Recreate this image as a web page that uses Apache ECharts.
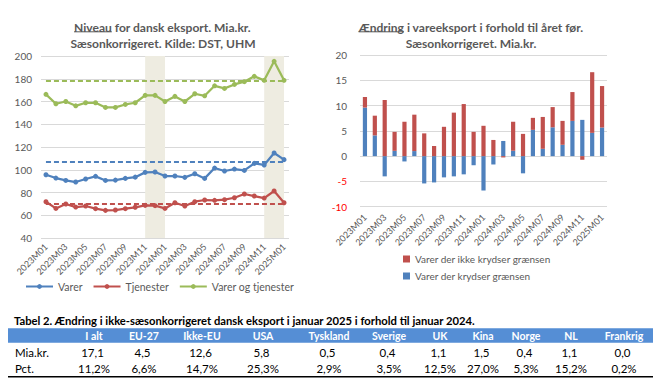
<!DOCTYPE html>
<html><head><meta charset="utf-8">
<script src="https://cdn.jsdelivr.net/npm/echarts@6/dist/echarts.min.js"></script>
<style>html,body{margin:0;padding:0;background:#fff}#c{width:663px;height:380px}</style>
</head><body><div id="c"></div>
<script>
// ---------- DATA ----------
const categories = ['2023M01','2023M02','2023M03','2023M04','2023M05','2023M06','2023M07','2023M08','2023M09','2023M10','2023M11','2023M12',
  '2024M01','2024M02','2024M03','2024M04','2024M05','2024M06','2024M07','2024M08','2024M09','2024M10','2024M11','2024M12','2025M01'];
const varer            = [95.6,92.7,90.6,89.2,91.9,94.2,90.6,90.9,92.4,93.5,97.7,98.0,94.5,94.5,93.3,96.5,92.4,101.5,98.9,100.6,99.4,105.6,104.2,114.7,108.9];
const tjenester        = [71.9,66.0,69.9,67.2,68.1,65.8,64.3,64.6,65.8,67.0,68.7,68.4,66.0,71.0,68.1,71.9,73.4,73.1,73.7,75.4,78.7,76.9,75.1,81.3,71.0];
const varerOgTjenester = [166.3,158.0,160.0,156.2,158.9,158.9,154.8,154.8,157.4,158.9,165.4,165.4,160.0,164.5,160.0,166.8,165.0,173.8,171.5,175.0,177.4,182.1,178.6,195.3,178.6];
const refVarer = 107.1;
const refTjenester = 70.4;
const refVarerOgTjenester = 178.0;
const bands = [['2023M11','2024M01'],['2024M11','2025M01']];

const krydser     = [9.6,4.1,-4.0,1.05,-1.05,1.0,-5.4,-5.2,-4.2,-4.0,-3.6,-1.8,-6.8,-1.65,3.0,1.05,-3.4,5.2,1.45,5.7,2.24,6.97,7.17,4.6,5.66];
const ikkeKrydser = [2.1,3.9,11.1,3.75,6.8,7.2,4.5,2.0,5.8,8.6,10.3,4.8,6.0,3.2,-0.26,5.75,4.4,2.37,6.3,4.0,4.73,5.7,-0.72,12.0,8.2];

const tableTitle = 'Tabel 2. Ændring i ikke-sæsonkorrigeret dansk eksport i januar 2025 i forhold til januar 2024.';
const tableCols  = ['I alt','EU-27','Ikke-EU','USA','Tyskland','Sverige','UK','Kina','Norge','NL','Frankrig'];
const tableRows  = ['Mia.kr.','Pct.'];
const tableMia   = ['17,1','4,5','12,6','5,8','0,5','0,4','1,1','1,5','0,4','1,1','0,0'];
const tablePct   = ['11,2%','6,6%','14,7%','25,3%','2,9%','3,5%','12,5%','27,0%','5,3%','15,2%','0,2%'];

// ---------- STYLE / LAYOUT ----------
const FONT = 'Lato, "Open Sans", sans-serif';
const GREY = '#595959';
const C_BLUE = '#4F81BD', C_RED = '#C0504D', C_GREEN = '#9BBB59';
const colX = [94,144,202,263,329,389,440,483,526,571,624];

const mctx = document.createElement('canvas').getContext('2d');
function tw(str, size, weight){ mctx.font = weight + ' ' + size + 'px Lato'; return mctx.measureText(str).width; }
function fitSize(str, weight, target){ return +(12 * target / tw(str, 12, weight)).toFixed(2); }
function txt(str, x, y, size, weight, fill, align){
  return {type:'text', x:x, y:y, silent:true, z:10,
    style:{text:str, fill:fill, fontFamily:FONT, fontSize:size, fontWeight:weight,
      align:align, textAlign:align, verticalAlign:'middle', textVerticalAlign:'middle'}};
}
function hline(x1, x2, y, color, w){
  return {type:'line', silent:true, z:10, shape:{x1:x1,y1:y,x2:x2,y2:y}, style:{stroke:color, lineWidth:w}};
}

const graphics = [];
// left title
const lt1 = 'Niveau for dansk eksport. Mia.kr.', lt2 = 'Sæsonkorrigeret. Kilde: DST, UHM';
const ls = fitSize(lt1, 'bold', 177);
const lw1 = tw(lt1, ls, 'bold'), lx0 = 162.5 - lw1 / 2;
graphics.push(txt(lt1, lx0, 27, ls, 'bold', GREY, 'left'));
graphics.push(hline(lx0, lx0 + tw('Niveau', ls, 'bold'), 31.8, GREY, 1));
graphics.push(txt(lt2, 163, 43, ls, 'bold', GREY, 'center'));
// right title
const rt1 = 'Ændring i vareeksport i forhold til året før.', rt2 = 'Sæsonkorrigeret. Mia.kr.';
const rs = fitSize(rt1, 'bold', 225);
const rw1 = tw(rt1, rs, 'bold'), rx0 = 471 - rw1 / 2;
graphics.push(txt(rt1, rx0, 27, rs, 'bold', GREY, 'left'));
graphics.push(hline(rx0, rx0 + tw('Ændring', rs, 'bold'), 31.8, GREY, 1));
graphics.push(txt(rt2, 471, 43, rs, 'bold', GREY, 'center'));
// table
const ts = fitSize(tableTitle, 'bold', 462);
graphics.push(txt(tableTitle, 14, 320, ts, 'bold', '#000', 'left'));
graphics.push({type:'rect', silent:true, z:9, shape:{x:8, y:328.3, width:645, height:14.4}, style:{fill:'#558ED5'}});
tableCols.forEach((c, i) => graphics.push(txt(c, colX[i], 335.6, 10.5, 'bold', '#fff', 'center')));
graphics.push(txt(tableRows[0], 15, 352.6, 11.5, 'normal', '#000', 'left'));
graphics.push(txt(tableRows[1], 15, 368.6, 11.5, 'normal', '#000', 'left'));
tableMia.forEach((v, i) => graphics.push(txt(v, colX[i] - 1.5, 352.6, 11.5, 'normal', '#000', 'center')));
tablePct.forEach((v, i) => graphics.push(txt(v, colX[i], 368.6, 11.5, 'normal', '#000', 'center')));
graphics.push(hline(8, 653, 376.8, '#000', 1.5));

const dash = [5, 3];
function refLine(val, color){
  return {silent:true, symbol:['none','none'], label:{show:false}, animation:false,
    lineStyle:{color:color, type:dash, width:2},
    data:[[{coord:[categories[0], val]}, {coord:[categories[categories.length-1], val]}]]};
}
function lineSeries(name, data, color, ref, extra){
  return Object.assign({name:name, type:'line', xAxisIndex:0, yAxisIndex:0, data:data,
    symbol:'circle', symbolSize:5, showSymbol:true, color:color,
    lineStyle:{color:color, width:2.25}, itemStyle:{color:color}, z:3,
    markLine:refLine(ref, color)}, extra || {});
}
const xLabel = {rotate:45, interval:1, fontSize:9, color:GREY, fontFamily:FONT, margin:7};

const option = {
  animation:false,
  backgroundColor:'#fff',
  textStyle:{fontFamily:FONT},
  graphic:graphics,
  grid:[
    {left:41, top:56, width:248, height:182, containLabel:false, outerBoundsMode:'none'},
    {left:360, top:55, width:247, height:151.7, containLabel:false, outerBoundsMode:'none'}
  ],
  legend:[
    {data:['Varer','Tjenester','Varer og tjenester'], left:20, top:276, itemWidth:27, itemHeight:6, itemGap:10,
      textStyle:{fontSize:10.5, color:GREY, fontFamily:FONT}, selectedMode:false},
    {data:['Varer der ikke krydser grænsen','Varer der krydser grænsen'], orient:'vertical', left:398, top:249,
      itemWidth:7, itemHeight:7, itemGap:7, icon:'rect',
      textStyle:{fontSize:10, color:GREY, fontFamily:FONT}, selectedMode:false}
  ],
  xAxis:[
    {type:'category', gridIndex:0, data:categories, boundaryGap:true,
      axisLine:{show:false}, axisTick:{show:false}, splitLine:{show:false}, axisLabel:xLabel},
    {type:'category', gridIndex:1, data:categories, boundaryGap:true, position:'bottom',
      axisLine:{show:false, onZero:false}, axisTick:{show:false}, splitLine:{show:false}, axisLabel:Object.assign({}, xLabel, {margin:9})}
  ],
  yAxis:[
    {type:'value', gridIndex:0, min:40, max:200, interval:20,
      axisLine:{show:false}, axisTick:{show:false},
      splitLine:{lineStyle:{color:'#D9D9D9', width:1}},
      axisLabel:{fontSize:10, color:GREY, fontFamily:FONT, margin:9}},
    {type:'value', gridIndex:1, min:-10, max:20, interval:5,
      axisLine:{show:false}, axisTick:{show:false},
      splitLine:{lineStyle:{color:'#D9D9D9', width:1}},
      axisLabel:{fontSize:10, fontFamily:FONT, margin:13,
        color:function(v){ return Number(v) < 0 ? '#FF0000' : GREY; }}}
  ],
  series:[
    lineSeries('Varer', varer, C_BLUE, refVarer),
    lineSeries('Tjenester', tjenester, C_RED, refTjenester),
    lineSeries('Varer og tjenester', varerOgTjenester, C_GREEN, refVarerOgTjenester, {
      markArea:{silent:true, itemStyle:{color:'#EEECE1'}, label:{show:false},
        data:bands.map(b => [{xAxis:b[0]}, {xAxis:b[1]}])}
    }),
    {name:'Varer der krydser grænsen', type:'bar', xAxisIndex:1, yAxisIndex:1, stack:'v', stackStrategy:'samesign',
      data:krydser, barWidth:4.2, itemStyle:{color:C_BLUE}, color:C_BLUE},
    {name:'Varer der ikke krydser grænsen', type:'bar', xAxisIndex:1, yAxisIndex:1, stack:'v', stackStrategy:'samesign',
      data:ikkeKrydser, barWidth:4.2, itemStyle:{color:C_RED}, color:C_RED}
  ]
};
const chart = echarts.init(document.getElementById('c'), null, {renderer:'svg', width:663, height:380});
chart.setOption(option);
</script>
</body></html>
